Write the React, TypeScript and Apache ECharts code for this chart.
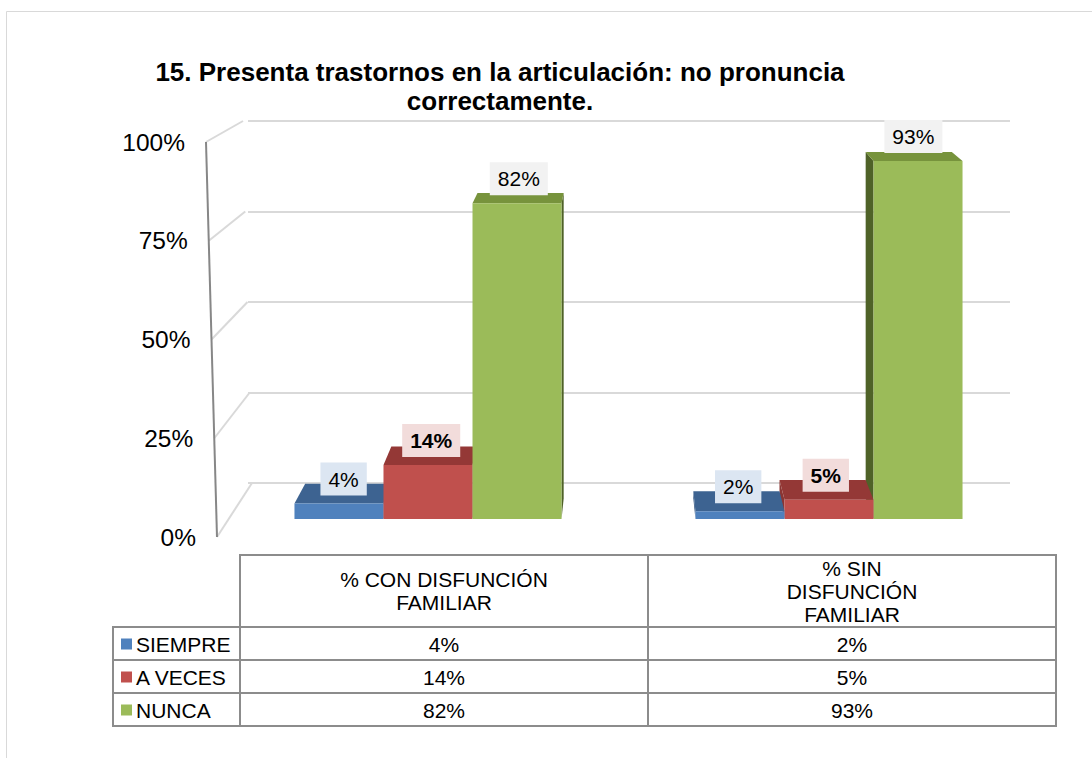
import React, { useEffect, useRef } from "react";
import * as echarts from "echarts";

const title = "15. Presenta trastornos en la articulación: no pronuncia\ncorrectamente.";
const categories = ["% CON DISFUNCIÓN\nFAMILIAR", "% SIN\nDISFUNCIÓN\nFAMILIAR"];
const seriesNames = ["SIEMPRE", "A VECES", "NUNCA"];
const siempre = [4, 2];
const aVeces = [14, 5];
const nunca = [82, 93];
const yTicks = [0, 25, 50, 75, 100];

const seriesValues = [siempre, aVeces, nunca];
const frontColors = ["#4f81bd", "#c0504d", "#9bbb59"];
const topColors = ["#3d6391", "#943836", "#77933c"];
const sideColors = ["#355783", "#8a3533", "#4f6228"];
const labelBg = ["#dce6f2", "#f2dcdb", "#f2f2f2"];
const labelBold = [false, true, false];
const FONT = "Liberation Sans, Arial, sans-serif";
const T = 0.032;

export default function App() {
  const ref = useRef<HTMLDivElement>(null);
  useEffect(() => {
    if (!ref.current) return;
    const chart = echarts.init(ref.current, null, { renderer: "svg" });

    // painter's order: group left of centre drawn left-to-right, right group right-to-left
    const barData: number[][] = [];
    categories.forEach((_, c) => {
      const order = c === 0 ? [0, 1, 2] : [2, 1, 0];
      order.forEach((s) => barData.push([c, s, seriesValues[s][c]]));
    });

    const option: any = {
      animation: false,
      backgroundColor: "#ffffff",
      title: {
        text: title,
        left: 500,
        top: 57,
        padding: 0,
        textAlign: "center",
        textStyle: { fontFamily: FONT, fontSize: 26, fontWeight: "bold", color: "#000", lineHeight: 29 },
      },
      grid: [
        { left: 227.5, top: 134, width: 802, height: 385 },
        { left: 248, top: 121, width: 762, height: 362 },
        { left: 217, top: 142, width: 10, height: 395 },
      ],
      xAxis: [
        { type: "category", gridIndex: 0, data: categories, show: false },
        { type: "value", gridIndex: 1, show: false },
        { type: "value", gridIndex: 2, show: false },
      ],
      yAxis: [
        { type: "value", gridIndex: 0, min: 0, max: 100, interval: 25, show: false },
        {
          type: "value", gridIndex: 1, min: 0, max: 100, interval: 25,
          axisLine: { show: false }, axisTick: { show: false }, axisLabel: { show: false },
          splitLine: { show: true, lineStyle: { color: "#d9d9d9", width: 2 } },
        },
        {
          type: "value", gridIndex: 2, min: 0, max: 100, interval: 25,
          axisLine: { show: false }, axisTick: { show: false }, splitLine: { show: false },
          axisLabel: {
            margin: 21,
            formatter: (v: number) => `{p${v}|${v}%}`,
            rich: Object.fromEntries(
              yTicks.map((v) => [
                `p${v}`,
                { fontFamily: FONT, fontSize: 24.5, color: "#000", padding: [0, (11 * v) / 100, 0, 0] },
              ])
            ),
          },
        },
      ],
      series: [
        {
          type: "custom",
          xAxisIndex: 0,
          yAxisIndex: 0,
          encode: { x: 0, y: 2 },
          data: barData,
          renderItem: (params: any, api: any) => {
            const c = api.value(0);
            const s = api.value(1);
            const v = api.value(2);
            const base = api.coord([c, 0]);
            const top = api.coord([c, v]);
            const catW = api.size([1, 0])[0];
            const bw = catW * 0.222;
            const x0 = base[0] + (s - 1.5) * bw;
            const x1 = x0 + bw;
            const yb = base[1];
            const yt = top[1];
            const vpx = (api.coord([0, 0])[0] + api.coord([1, 0])[0]) / 2;
            const vpy = yb - 637;
            const P = (x: number, y: number) => [x + (vpx - x) * T, y + (vpy - y) * T];
            const children: any[] = [];
            if (x1 < vpx) {
              children.push({
                type: "polygon",
                shape: { points: [[x1, yt], [x1, yb], P(x1, yb), P(x1, yt)] },
                style: { fill: sideColors[s] },
              });
            } else if (x0 > vpx) {
              children.push({
                type: "polygon",
                shape: { points: [[x0, yt], [x0, yb], P(x0, yb), P(x0, yt)] },
                style: { fill: sideColors[s] },
              });
            }
            children.push({
              type: "polygon",
              shape: { points: [[x0, yt], [x1, yt], P(x1, yt), P(x0, yt)] },
              style: { fill: topColors[s] },
            });
            children.push({
              type: "rect",
              shape: { x: x0, y: yt, width: bw, height: yb - yt },
              style: { fill: frontColors[s] },
            });
            const mid = (x0 + x1) / 2;
            const pm = P(mid, yt);
            children.push({
              type: "text",
              z2: 100,
              x: (mid + pm[0]) / 2,
              y: yt - 8,
              style: {
                text: `${v}%`,
                fill: "#000",
                font: `${labelBold[s] ? "bold " : ""}21px ${FONT}`,
                align: "center",
                verticalAlign: "bottom",
                backgroundColor: labelBg[s],
                padding: [6, 8, 6, 8],
              },
            });
            return { type: "group", children };
          },
        },
      ],
    };
    chart.setOption(option);

    // perspective side-wall lines and slanted front axis, positioned from the axes
    const graphics: any[] = [];
    graphics.push({
      type: "rect",
      z: -10,
      shape: { x: 6.5, y: 11.5, width: 1100, height: 800 },
      style: { fill: "none", stroke: "#d9d9d9", lineWidth: 1 },
    });
    const frontX = (v: number) => 217 - (11 * v) / 100;
    const backX = (v: number) => 252 - (9 * v) / 100;
    yTicks.forEach((v) => {
      const yf = chart.convertToPixel({ yAxisIndex: 2 } as any, v) as number;
      const yb = chart.convertToPixel({ yAxisIndex: 1 } as any, v) as number;
      graphics.push({
        type: "line",
        z: 1,
        shape: { x1: frontX(v), y1: yf, x2: backX(v), y2: yb },
        style: { stroke: "#d9d9d9", lineWidth: 2 },
      });
    });
    const yf0 = chart.convertToPixel({ yAxisIndex: 2 } as any, 0) as number;
    const yf100 = chart.convertToPixel({ yAxisIndex: 2 } as any, 100) as number;
    graphics.push({
      type: "line",
      z: 3,
      shape: { x1: frontX(0), y1: yf0, x2: frontX(100), y2: yf100 },
      style: { stroke: "#878787", lineWidth: 2 },
    });

    // data table
    const tStroke = "#8c8c8c";
    const colX = [113, 240, 648, 1056];
    const rowY = [555, 627, 660, 693, 726];
    const tFont = `21px ${FONT}`;
    graphics.push({
      type: "rect",
      shape: { x: colX[1], y: rowY[0], width: colX[3] - colX[1], height: rowY[1] - rowY[0] },
      style: { fill: "none", stroke: tStroke, lineWidth: 2 },
    });
    graphics.push({
      type: "line",
      shape: { x1: colX[2], y1: rowY[0], x2: colX[2], y2: rowY[4] },
      style: { stroke: tStroke, lineWidth: 2 },
    });
    categories.forEach((cat, c) => {
      graphics.push({
        type: "text",
        x: (colX[c + 1] + colX[c + 2]) / 2,
        y: (rowY[0] + rowY[1]) / 2,
        style: {
          text: cat,
          font: tFont,
          fill: "#000",
          align: "center",
          verticalAlign: "middle",
          lineHeight: 23,
        },
      });
    });
    seriesNames.forEach((name, s) => {
      const y0 = rowY[s + 1];
      const y1 = rowY[s + 2];
      graphics.push({
        type: "rect",
        shape: { x: colX[0], y: y0, width: colX[3] - colX[0], height: y1 - y0 },
        style: { fill: "none", stroke: tStroke, lineWidth: 2 },
      });
      graphics.push({
        type: "line",
        shape: { x1: colX[1], y1: y0, x2: colX[1], y2: y1 },
        style: { stroke: tStroke, lineWidth: 2 },
      });
      graphics.push({
        type: "rect",
        shape: { x: 121, y: (y0 + y1) / 2 - 5, width: 11, height: 11 },
        style: { fill: frontColors[s] },
      });
      graphics.push({
        type: "text",
        x: 136,
        y: (y0 + y1) / 2 + 1,
        style: { text: name, font: tFont, fill: "#000", align: "left", verticalAlign: "middle" },
      });
      categories.forEach((_, c) => {
        graphics.push({
          type: "text",
          x: (colX[c + 1] + colX[c + 2]) / 2,
          y: (y0 + y1) / 2 + 1,
          style: {
            text: `${seriesValues[s][c]}%`,
            font: tFont,
            fill: "#000",
            align: "center",
            verticalAlign: "middle",
          },
        });
      });
    });
    chart.setOption({ graphic: graphics });

    return () => chart.dispose();
  }, []);
  return (
    <div
      ref={ref}
      style={{ position: "absolute", left: 0, top: 0, width: 1092, height: 758 }}
    />
  );
}
